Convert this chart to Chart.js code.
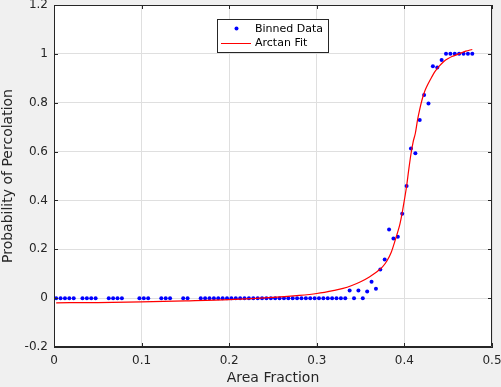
<!DOCTYPE html>
<html>
<head>
<meta charset="utf-8">
<script src="https://cdn.jsdelivr.net/npm/chart.js@4.4.0/dist/chart.umd.min.js"></script>
<style>
  html, body { margin: 0; padding: 0; background: #f0f0f0; }
</style>
</head>
<body>
<canvas id="percChart" width="501" height="387"></canvas>
<script>
// binned data (area fraction bin centres and probability)
const binX = [
    0.0025, 0.0075, 0.0125, 0.0175, 0.0225,
    0.0325, 0.0375, 0.0425, 0.0475,
    0.0625, 0.0675, 0.0725, 0.0775,
    0.0975, 0.1025, 0.1075,
    0.1225, 0.1275, 0.1325,
    0.1475, 0.1525,
    0.1675, 0.1725, 0.1775, 0.1825, 0.1875, 0.1925, 0.1975, 0.2025, 0.2075, 0.2125,
    0.2175, 0.2225, 0.2275, 0.2325, 0.2375, 0.2425, 0.2475, 0.2525, 0.2575, 0.2625,
    0.2675, 0.2725, 0.2775, 0.2825, 0.2875, 0.2925, 0.2975, 0.3025, 0.3075, 0.3125,
    0.3175, 0.3225, 0.3275, 0.3325,
    0.3375, 0.3425, 0.3475, 0.3525, 0.3575, 0.3625, 0.3675, 0.3725, 0.3775, 0.3825,
    0.3875, 0.3925, 0.3975, 0.4025, 0.4075, 0.4125, 0.4175, 0.4225, 0.4275, 0.4325,
    0.4375, 0.4425, 0.4475, 0.4525, 0.4575, 0.4625, 0.4675, 0.4725, 0.4775,
];
const binY = [
    0, 0, 0, 0, 0,
    0, 0, 0, 0,
    0, 0, 0, 0,
    0, 0, 0,
    0, 0, 0,
    0, 0,
    0, 0, 0, 0, 0, 0, 0, 0, 0, 0,
    0, 0, 0, 0, 0, 0, 0, 0, 0, 0,
    0, 0, 0, 0, 0, 0, 0, 0, 0, 0,
    0, 0, 0, 0,
    0.031, 0, 0.031, 0, 0.027, 0.067, 0.038, 0.117, 0.158, 0.281,
    0.244, 0.251, 0.345, 0.459, 0.613, 0.593, 0.729, 0.832, 0.797, 0.949,
    0.944, 0.975, 1, 1, 1, 1, 1, 1, 1,
];

// arctan fit
const fitX = [
    0.0025, 0.05, 0.10, 0.15, 0.20, 0.25, 0.28, 0.30, 0.32, 0.33,
    0.34, 0.35, 0.36, 0.365, 0.37, 0.375, 0.38, 0.385, 0.39, 0.3925,
    0.395, 0.3975, 0.40, 0.4025, 0.405, 0.4075, 0.41, 0.4125, 0.415, 0.4175,
    0.42, 0.4225, 0.425, 0.43, 0.435, 0.44, 0.445, 0.45, 0.455, 0.46,
    0.465, 0.47, 0.4775,
];
const fitY = [
    -0.019, -0.018, -0.015, -0.011, -0.006, 0.003, 0.011, 0.019, 0.032, 0.040,
    0.052, 0.067, 0.087, 0.099, 0.112, 0.128, 0.152, 0.188, 0.243, 0.272,
    0.305, 0.350, 0.402, 0.458, 0.527, 0.590, 0.640, 0.675, 0.730, 0.773,
    0.810, 0.840, 0.862, 0.897, 0.928, 0.951, 0.969, 0.981, 0.990, 0.997,
    1.004, 1.011, 1.018,
];

const xTicks = [0, 0.1, 0.2, 0.3, 0.4, 0.5];
const xTickLabels = ["0", "0.1", "0.2", "0.3", "0.4", "0.5"];
const yTicks = [-0.2, 0, 0.2, 0.4, 0.6, 0.8, 1, 1.2];
const yTickLabels = ["-0.2", "0", "0.2", "0.4", "0.6", "0.8", "1", "1.2"];

const seriesNames = ["Binned Data", "Arctan Fit"];
const AXIS_COLOR = "#262626";
const FONT = "DejaVu Sans";

function toPoints(xs, ys) {
    return xs.map((x, i) => ({ x: x, y: ys[i] }));
}

// grey figure background, white axes area
const backgroundPlugin = {
    id: "background",
    beforeDraw(chart) {
        const { ctx, chartArea } = chart;
        ctx.save();
        ctx.fillStyle = "#f0f0f0";
        ctx.fillRect(0, 0, chart.width, chart.height);
        ctx.fillStyle = "#ffffff";
        ctx.fillRect(chartArea.left, chartArea.top,
            chartArea.right - chartArea.left, chartArea.bottom - chartArea.top);
        ctx.restore();
    },
};

// matlab style box with inward ticks on all sides
const boxPlugin = {
    id: "box",
    afterDatasetsDraw(chart) {
        const { ctx, chartArea, scales } = chart;
        const { left, right, top, bottom } = chartArea;
        const tl = 4;
        ctx.save();
        ctx.strokeStyle = AXIS_COLOR;
        ctx.lineWidth = 1;
        ctx.beginPath();
        ctx.rect(left + 0.5, top + 0.5, right - left - 1, bottom - top - 1);
        xTicks.forEach((v) => {
            const px = Math.round(scales.x.getPixelForValue(v)) + 0.5;
            ctx.moveTo(px, bottom);
            ctx.lineTo(px, bottom - tl);
            ctx.moveTo(px, top);
            ctx.lineTo(px, top + tl);
        });
        yTicks.forEach((v) => {
            const py = Math.round(scales.y.getPixelForValue(v)) + 0.5;
            ctx.moveTo(left, py);
            ctx.lineTo(left + tl, py);
            ctx.moveTo(right, py);
            ctx.lineTo(right - tl, py);
        });
        ctx.stroke();
        ctx.restore();
    },
};

// legend box placed like the original
const legendPlugin = {
    id: "legendBox",
    afterDraw(chart) {
        const { ctx } = chart;
        const sets = chart.data.datasets;
        const bx = 217.5, by = 19.5, bw = 111, bh = 33;
        ctx.save();
        ctx.fillStyle = "#ffffff";
        ctx.fillRect(bx, by, bw, bh);
        ctx.strokeStyle = AXIS_COLOR;
        ctx.lineWidth = 1;
        ctx.strokeRect(bx, by, bw, bh);

        ctx.fillStyle = sets[0].pointBackgroundColor;
        ctx.beginPath();
        ctx.arc(236.5, 28.5, 2, 0, Math.PI * 2);
        ctx.fill();

        ctx.strokeStyle = sets[1].borderColor;
        ctx.beginPath();
        ctx.moveTo(221, 43.5);
        ctx.lineTo(251, 43.5);
        ctx.stroke();

        ctx.fillStyle = "#000000";
        ctx.font = "11px '" + FONT + "'";
        ctx.textBaseline = "middle";
        ctx.fillText(sets[0].label, 255, 29);
        ctx.fillText(sets[1].label, 255, 43.5);
        ctx.restore();
    },
};

const ctx = document.getElementById("percChart").getContext("2d");

new Chart(ctx, {
    type: "scatter",
    data: {
        datasets: [
            {
                label: seriesNames[0],
                data: toPoints(binX, binY),
                showLine: false,
                pointRadius: 2,
                pointBorderWidth: 0,
                pointBackgroundColor: "#0000ff",
                pointBorderColor: "#0000ff",
                order: 1,
            },
            {
                label: seriesNames[1],
                data: toPoints(fitX, fitY),
                showLine: true,
                borderColor: "#ff0000",
                borderWidth: 1.2,
                pointRadius: 0,
                cubicInterpolationMode: "monotone",
                order: 0,
            },
        ],
    },
    options: {
        responsive: false,
        animation: false,
        layout: {
            padding: { left: 0, right: 9, top: 5, bottom: 0 },
        },
        plugins: {
            legend: { display: false },
            tooltip: { enabled: false },
        },
        scales: {
            x: {
                type: "linear",
                min: 0,
                max: 0.5,
                afterBuildTicks: (scale) => {
                    scale.ticks = xTicks.map((v) => ({ value: v }));
                },
                afterFit: (scale) => {
                    scale.height = 40;
                    scale.paddingLeft = 0;
                    scale.paddingRight = 0;
                },
                ticks: {
                    padding: 7,
                    color: AXIS_COLOR,
                    font: { family: FONT, size: 12 },
                    maxRotation: 0,
                    callback: (v) => xTickLabels[xTicks.indexOf(v)],
                },
                grid: { color: "#dfdfdf", drawTicks: false },
                border: { color: AXIS_COLOR },
                title: {
                    display: true,
                    text: "Area Fraction",
                    color: AXIS_COLOR,
                    font: { family: FONT, size: 14 },
                    padding: { top: 0, bottom: 0 },
                },
            },
            y: {
                type: "linear",
                min: -0.2,
                max: 1.2,
                afterBuildTicks: (scale) => {
                    scale.ticks = yTicks.map((v) => ({ value: v }));
                },
                afterFit: (scale) => {
                    scale.width = 54;
                    scale.paddingTop = 0;
                    scale.paddingBottom = 0;
                },
                ticks: {
                    padding: 6,
                    color: AXIS_COLOR,
                    font: { family: FONT, size: 12 },
                    callback: (v) => yTickLabels[yTicks.indexOf(v)],
                },
                grid: { color: "#dfdfdf", drawTicks: false },
                border: { color: AXIS_COLOR },
                title: {
                    display: true,
                    text: "Probability of Percolation",
                    color: AXIS_COLOR,
                    font: { family: FONT, size: 14 },
                    padding: { top: 0, bottom: 0 },
                },
            },
        },
    },
    plugins: [backgroundPlugin, boxPlugin, legendPlugin],
});
</script>
</body>
</html>
